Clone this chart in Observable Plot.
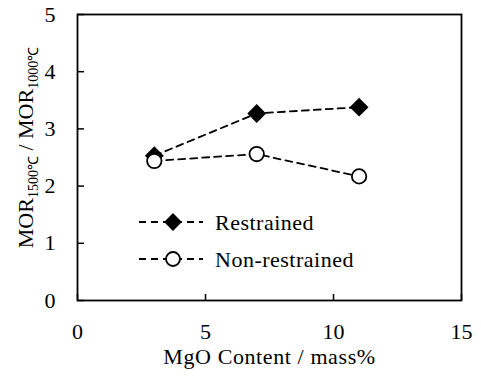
<!DOCTYPE html>
<html><head><meta charset="utf-8">
<script src="https://cdn.jsdelivr.net/npm/d3@7"></script>
<script src="https://cdn.jsdelivr.net/npm/@observablehq/plot@0.6"></script>
<style>
body{margin:0;background:#fff}
svg{font-family:"Liberation Serif","Times New Roman",serif}
</style>
</head><body><div id="chart"></div>
<script>
const mgo = [3, 7, 11];
const restrained = [2.53, 3.27, 3.38];
const nonRestrained = [2.44, 2.56, 2.17];
const xTicks = [0, 5, 10, 15];
const yTicks = [0, 1, 2, 3, 4, 5];
const seriesNames = ["Restrained", "Non-restrained"];
const xTitle = "MgO Content / mass%";
const yTitleParts = [["MOR", false], ["1500℃", true], [" / MOR", false], ["1000℃", true]];

const rows = mgo.map((x, i) => ({x, r: restrained[i], n: nonRestrained[i]}));
const dash = "7,5";

const plot = Plot.plot({
  width: 481, height: 380,
  marginLeft: 77, marginRight: 20, marginTop: 14, marginBottom: 80,
  style: {fontFamily: "Liberation Serif", fontSize: "22px", color: "#000", background: "#fff", overflow: "visible"},
  x: {domain: [0, 15]},
  y: {domain: [0, 5]},
  marks: [
    Plot.axisX(xTicks, {tickSize: -6, tickPadding: 29, fontSize: 22, strokeWidth: 1.5, label: null, tickFormat: d3.format("d")}),
    Plot.axisY(yTicks, {tickSize: -7, tickPadding: 29, fontSize: 22, strokeWidth: 1.5, label: null, tickFormat: d3.format("d")}),
    Plot.frame({stroke: "#000", strokeWidth: 1.8}),
    Plot.line(rows, {x: "x", y: "r", stroke: "#000", strokeWidth: 1.8, strokeDasharray: dash}),
    Plot.dot(rows, {x: "x", y: "r", symbol: "diamond2", r: 8.5, fill: "#000", stroke: "none"}),
    Plot.line(rows, {x: "x", y: "n", stroke: "#000", strokeWidth: 1.8, strokeDasharray: dash}),
    Plot.dot(rows, {x: "x", y: "n", r: 7.2, fill: "#fff", stroke: "#000", strokeWidth: 1.8}),
    Plot.text([xTitle], {frameAnchor: "bottom", dy: 63, fontSize: 22, fill: "#000", className: "xtitle"}),
    Plot.text(["y"], {frameAnchor: "left", textAnchor: "middle", dx: -52, dy: -10, rotate: -90, fontSize: 22, fill: "#000", className: "ytitle"})
  ]
});

document.getElementById("chart").appendChild(plot);
const svg = d3.select(plot);
svg.select(".xtitle text").attr("letter-spacing", 0.6);

// y title with subscripts
const yt = svg.select(".ytitle text");
yt.text(null);
yTitleParts.forEach(([t, sub], i) => {
  yt.append("tspan")
    .attr("font-size", sub ? 14 : 22)
    .attr("dy", i === 0 ? 0 : (sub ? 5 : -5))
    .text(t);
});

// legend
const lg = svg.append("g").attr("stroke", "#000");
const legendX0 = 139, legendX1 = 203, legendM = 173, legendT = 215;
const legendY = [222, 259];
seriesNames.forEach((name, i) => {
  const y = legendY[i];
  lg.append("line").attr("x1", legendX0).attr("x2", legendX1).attr("y1", y).attr("y2", y)
    .attr("stroke-width", 1.8).attr("stroke-dasharray", dash);
  if (i === 0) {
    lg.append("path").attr("d", d3.symbol(d3.symbolDiamond2, Math.PI * 64)()).attr("transform", `translate(${legendM},${y})`)
      .attr("fill", "#000").attr("stroke", "none");
  } else {
    lg.append("circle").attr("cx", legendM).attr("cy", y).attr("r", 7).attr("fill", "#fff").attr("stroke-width", 1.8);
  }
  lg.append("text").attr("x", legendT).attr("y", y).attr("dy", "0.35em").attr("stroke", "none")
    .attr("text-anchor", "start").attr("letter-spacing", 0.5)
    .attr("fill", "#000").attr("font-size", 22).text(name);
});
</script>
</body></html>
